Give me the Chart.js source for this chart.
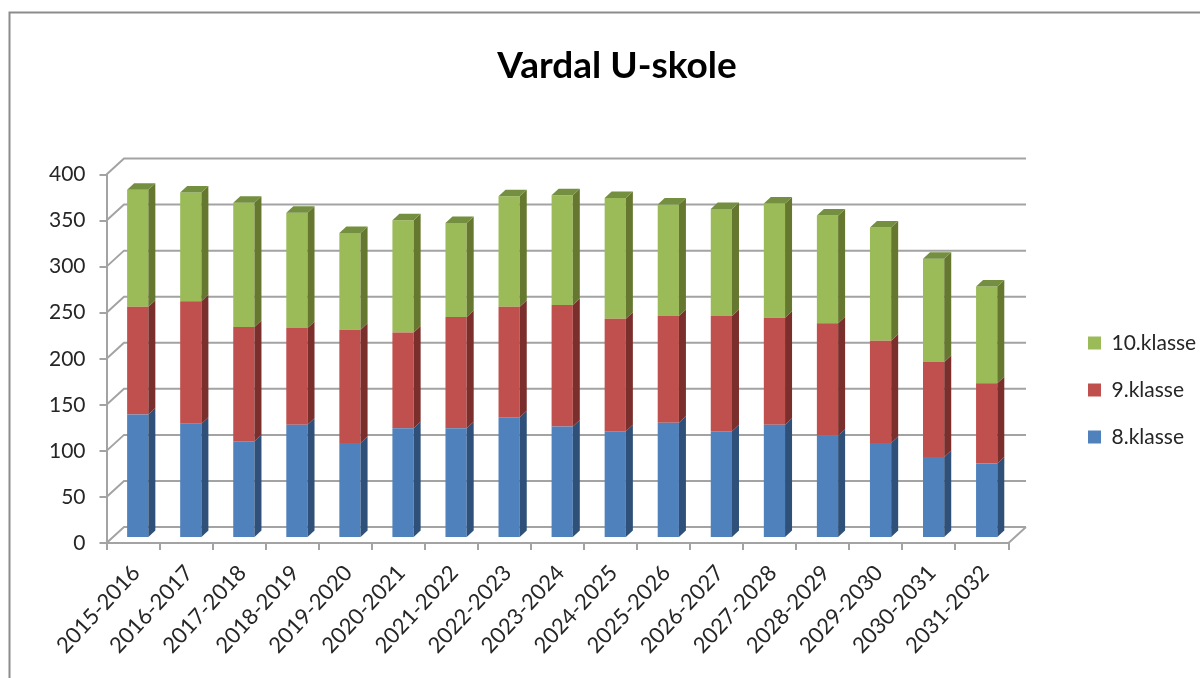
<!DOCTYPE html>
<html><head><meta charset="utf-8">
<style>html,body{margin:0;padding:0;background:#fff}#w{width:1200px;height:678px;position:relative}</style>
<script src="https://cdn.jsdelivr.net/npm/chart.js@4"></script></head>
<body><div id="w"><canvas id="c" width="1200" height="678"></canvas></div>
<script>
const categories=["2015-2016","2016-2017","2017-2018","2018-2019","2019-2020","2020-2021","2021-2022","2022-2023","2023-2024","2024-2025","2025-2026","2026-2027","2027-2028","2028-2029","2029-2030","2030-2031","2031-2032"];
const klasse8=[134,124,105,123,103,119,119,131,121,116,125,116,123,111,103,88,81];
const klasse9=[117,133,124,105,123,104,121,120,132,122,116,125,116,122,111,103,87];
const klasse10=[127,118,135,125,105,122,102,120,119,131,121,116,124,117,123,112,105];
const FONT='Lato,"Open Sans",sans-serif';
const GRID='#a3a3a3', TXT='#262626';
const DX=17.5, DY=16;         // wall depth
const BX=4.7, BY=5;           // bars sit inside the floor
const SX=7, SY=6.5;           // bar depth
const shades=[{side:'#2f5078',top:'#3d659a'},{side:'#7b2f2d',top:'#96403d'},{side:'#66782f',top:'#738f3f'}];
const scene={id:'scene',
 afterLayout(ch){
  const t=ch.titleBlock; t.left=34;t.right=1200;
  const l=ch.legend; l.left=1062;l.right=1200;l.top=300;l.bottom=480;l.width=138;l.height=180;
 },
 beforeDraw(ch){
  const c=ch.ctx;c.save();c.strokeStyle='#8c8c8c';c.lineWidth=2;
  c.beginPath();c.moveTo(9.5,678);c.lineTo(9.5,12.5);c.lineTo(1200,12.5);c.stroke();c.restore();
 },
 beforeDatasetsDraw(ch){
  const c=ch.ctx,y=ch.scales.y,a=ch.chartArea;
  c.save();c.strokeStyle=GRID;c.lineWidth=2;c.beginPath();
  y.ticks.forEach(t=>{const p=y.getPixelForValue(t.value);
   c.moveTo(a.left,p);c.lineTo(a.left+DX,p-DY);c.lineTo(a.right+DX,p-DY);});
  c.moveTo(a.right,a.bottom);c.lineTo(a.right+DX,a.bottom-DY);
  c.stroke();c.restore();
  c.save();c.translate(BX,-BY);
 },
 afterDatasetsDraw(ch){
  const c=ch.ctx,n=ch.data.datasets.length;
  for(let d=0;d<n;d++){
   ch.getDatasetMeta(d).data.forEach(b=>{
    const p=b.getProps(['x','y','base','width'],true),r=p.x+p.width/2,l=p.x-p.width/2;
    c.fillStyle=shades[d].side;c.beginPath();
    c.moveTo(r,p.y);c.lineTo(r+SX,p.y-SY);c.lineTo(r+SX,p.base-SY);c.lineTo(r,p.base);c.closePath();c.fill();
    if(d===n-1){c.fillStyle=shades[d].top;c.beginPath();
     c.moveTo(l,p.y);c.lineTo(l+SX,p.y-SY);c.lineTo(r+SX,p.y-SY);c.lineTo(r,p.y);c.closePath();c.fill();}
   });
  }
  c.restore();
 }};
new Chart(document.getElementById('c'),{type:'bar',
 data:{labels:categories,datasets:[
  {label:'8.klasse',data:klasse8,backgroundColor:'#4f81bd'},
  {label:'9.klasse',data:klasse9,backgroundColor:'#c0504d'},
  {label:'10.klasse',data:klasse10,backgroundColor:'#9bbb59'}]},
 plugins:[scene],
 options:{responsive:false,animation:false,
  barPercentage:1,categoryPercentage:0.4,
  layout:{padding:{left:0,right:191.5,top:0,bottom:0}},
  plugins:{
   title:{display:true,text:'Vardal U-skole',color:'#000',font:{family:FONT,size:37,weight:'bold'},padding:{top:43.5,bottom:86.6}},
   legend:{position:'chartArea',reverse:true,align:'center',
    labels:{boxWidth:13,boxHeight:13,padding:26,color:TXT,font:{family:FONT,size:21}}},
   tooltip:{enabled:false}},
  scales:{
   x:{stacked:true,afterFit(s){s.height=135;},
    grid:{drawOnChartArea:false,color:GRID,lineWidth:2,tickLength:7},border:{color:GRID,width:2},
    ticks:{color:TXT,minRotation:47,maxRotation:47,autoSkip:false,padding:10,labelOffset:3,font:{family:FONT,size:22}}},
   y:{stacked:true,min:0,max:400,afterFit(s){s.width=106.5;},
    grid:{drawOnChartArea:false,color:GRID,lineWidth:2,tickLength:7},border:{color:GRID,width:2},
    ticks:{stepSize:50,color:TXT,padding:14,font:{family:FONT,size:21}}}
  }}});
</script></body></html>
